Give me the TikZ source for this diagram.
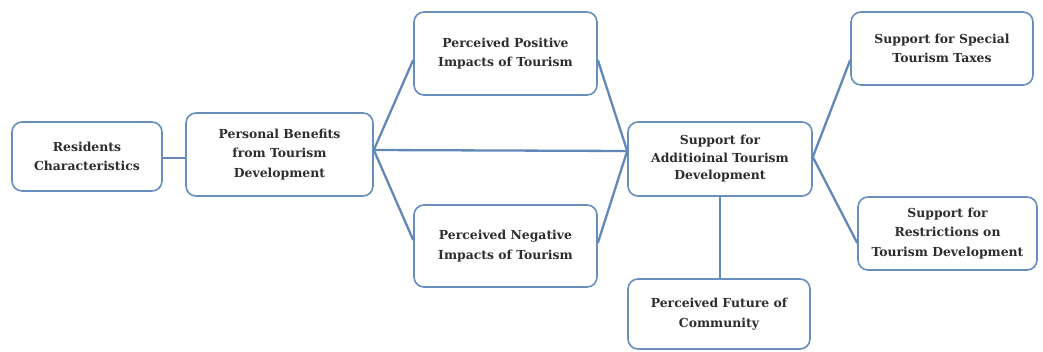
\documentclass[tikz,border=0pt]{standalone}
\usepackage{fontspec}
\setmainfont{DejaVu Serif}
\begin{document}
\begin{tikzpicture}[x=1pt,y=-1pt,
  box/.style={draw=boxblue, line width=1.6pt, rounded corners=10pt, fill=white,
    align=center, inner sep=2pt, text=txtgray, font=\bfseries\fontsize{12.4}{19.5}\selectfont},
  tight/.style={font=\bfseries\fontsize{12.4}{17.5}\selectfont},
  link/.style={draw=lineblue, line width=2.3pt}]
\definecolor{boxblue}{RGB}{104,142,190}
\definecolor{lineblue}{RGB}{98,136,186}
\definecolor{txtgray}{RGB}{45,45,45}
\useasboundingbox (0,0) rectangle (1043,351);
% boxes
\node[box, minimum width=150pt, minimum height=69pt] (res) at (87,156.5) {Residents\\Characteristics};
\node[box, minimum width=187pt, minimum height=83pt] (pers) at (279.5,154.5) {Personal Benefits\\from Tourism\\Development};
\node[box, minimum width=183pt, minimum height=83pt] (pos) at (505.5,53.5) {Perceived Positive\\Impacts of Tourism};
\node[box, minimum width=183pt, minimum height=82pt] (neg) at (505.5,246) {Perceived Negative\\Impacts of Tourism};
\node[box, tight, minimum width=184pt, minimum height=74pt] (sup) at (720,159) {Support for\\Additioinal Tourism\\Development};
\node[box, minimum width=182pt, minimum height=70pt] (fut) at (719,314) {Perceived Future of\\Community};
\node[box, minimum width=182pt, minimum height=73pt] (tax) at (942,48.5) {Support for Special\\Tourism Taxes};
\node[box, minimum width=179pt, minimum height=73pt] (rst) at (947.5,233.5) {Support for\\Restrictions on\\Tourism Development};
% connectors
\draw[link] ([yshift=-1.5pt]res.east) -- ([yshift=-1.5pt]res.east -| pers.west);
\draw[link] ([yshift=4.5pt]pers.east) -- ([yshift=-6.5pt]pos.west);
\draw[link] ([yshift=4.5pt]pers.east) -- ([yshift=6pt]neg.west);
\draw[link] ([yshift=4.5pt]pers.east) -- ([yshift=8pt]sup.west);
\draw[link] ([yshift=-6.5pt]pos.east) -- ([yshift=8pt]sup.west);
\draw[link] ([yshift=3pt]neg.east) -- ([yshift=8pt]sup.west);
\draw[link] ([yshift=2pt]sup.east) -- ([yshift=-11.5pt]tax.west);
\draw[link] ([yshift=2pt]sup.east) -- ([yshift=-9.5pt]rst.west);
\draw[link] (sup.south) -- (sup.south |- fut.north);
\end{tikzpicture}
\end{document}
